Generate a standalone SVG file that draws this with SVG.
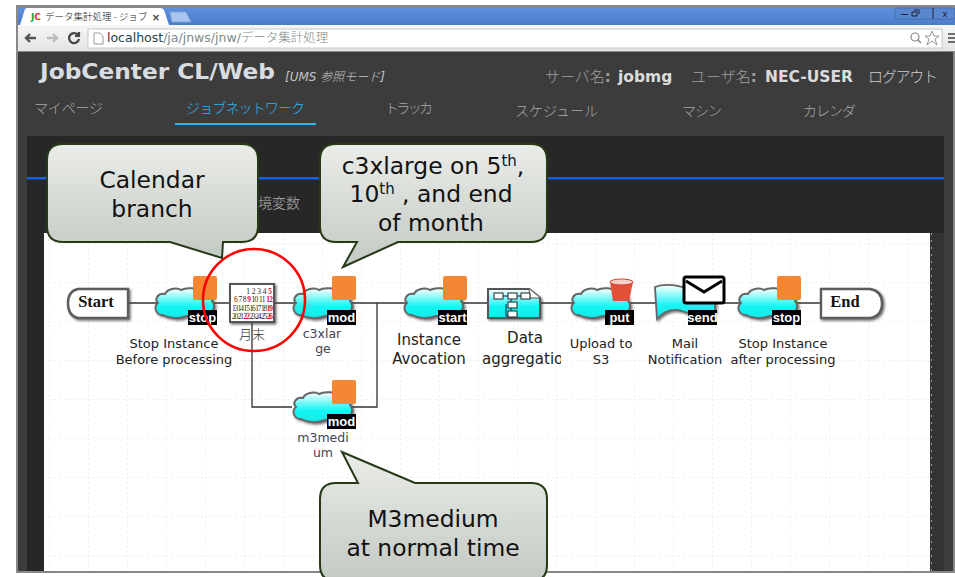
<svg xmlns="http://www.w3.org/2000/svg" xmlns:xlink="http://www.w3.org/1999/xlink" width="955" height="577" viewBox="0 0 955 577">
<style>
text{font-family:"DejaVu Sans","Noto Sans CJK JP",sans-serif}
.jp{font-family:"Noto Sans CJK JP",sans-serif;font-weight:300}
.menu{font-size:14px;fill:#a8a8a8}
.head{font-size:15px;fill:#a0a0a0}
.bold{font-size:15.5px;font-weight:bold;fill:#dcdcdc}
.call{font-size:23.4px;fill:#111;text-anchor:middle;font-family:"DejaVu Sans",sans-serif}
.sup{font-size:15px}
.lab{font-size:13px;fill:#222;text-anchor:middle}
.lab2{font-size:15px;fill:#222;text-anchor:middle}
.blu{font-size:12.5px;fill:#445;text-anchor:middle}
.tag{font:bold 13px "Liberation Sans",sans-serif;fill:#fff;text-anchor:middle}
.ttl{font:bold 16.5px "Liberation Serif",serif;fill:#111;text-anchor:middle}
.cal{font:7.4px "Liberation Serif",serif;fill:#222}
.red{fill:#e01010;font-weight:bold}
.wire{fill:none;stroke:#333;stroke-width:1.3}
.box{stroke:#263a18;stroke-width:2;fill:url(#cg)}
.or{fill:#f58634;stroke:none}
.sh{filter:url(#ds)}
.frame{fill:#fff;stroke:#5c5c5c;stroke-width:2.4}
.ic{fill:#fff;stroke:#222;stroke-width:1}
</style>
<defs>
<linearGradient id="cg" x1="0" y1="0" x2="0" y2="1"><stop offset="0" stop-color="#eaece8"/><stop offset="1" stop-color="#c3c9c3"/></linearGradient>
<linearGradient id="cy" x1="0" y1="0" x2="0" y2="1"><stop offset="0" stop-color="#fff"/><stop offset=".6" stop-color="#18f4f4"/><stop offset="1" stop-color="#10e8e8"/></linearGradient>
<linearGradient id="tb" x1="0" y1="0" x2="0" y2="1"><stop offset="0" stop-color="#5e90de"/><stop offset="1" stop-color="#4a7cc8"/></linearGradient>
<linearGradient id="gr" x1="0" y1="0" x2="0" y2="1"><stop offset="0" stop-color="#f6f6f6"/><stop offset="1" stop-color="#e4e4e4"/></linearGradient>
<filter id="ds" x="-20%" y="-20%" width="150%" height="150%"><feDropShadow dx="1.5" dy="1.5" stdDeviation="1.2" flood-color="#333" flood-opacity=".7"/></filter>
<pattern id="grid" width="39" height="39" patternUnits="userSpaceOnUse" x="10" y="9"><path d="M0 .5H39M.5 0V39" stroke="#eeeeee" stroke-width="1" stroke-dasharray="2 3" fill="none"/></pattern>
<clipPath id="dataclip"><rect x="470" y="330" width="91" height="45"/></clipPath>
<path id="cloud" d="M9 28C2 28-1 20 4 16C0 12 4 6 11 7C13 2 22 0 27 3C33 0 42 1 45 4C52 2 59 8 58 14C62 18 60 27 52 28C46 31 38 30 33 29C26 32 16 32 9 28Z" fill="url(#cy)" stroke="#666" stroke-width="2"/>
</defs>

<rect width="955" height="577" fill="#fff"/>
<g id="browser">
<rect x="16" y="5" width="939" height="568" fill="#888"/>
<rect x="18" y="8" width="937" height="17" fill="url(#tb)"/>
<path d="M20 25L25 9Q26 8 28 8H160Q163 8 164 10L169 25Z" fill="#fff"/>
<path d="M170 12H186L191 22H172Z" fill="#a9c6ee" stroke="#7da2d8"/>
<text x="31" y="20" font-size="9" font-weight="bold" fill="#2a9d3a">J<tspan fill="#e03020">C</tspan></text>
<text class="jp" x="45" y="20" font-size="9.5" fill="#222">データ集計処理 - ジョブ</text>
<text x="156" y="21" font-size="10" font-weight="bold" text-anchor="middle" fill="#444">×</text>
<rect x="895" y="8" width="60" height="11" fill="#5a88d0" stroke="#3a5f9c" stroke-width=".6" rx="2"/>
<path d="M901 14.5H908M912 12h5v4h-5zM914 10h5v4M933 8V19" stroke="#223" stroke-width="1" fill="none"/>
<text x="945" y="17" font-size="9" text-anchor="middle" fill="#223">x</text>
<rect x="18" y="25" width="937" height="26" fill="url(#gr)"/>
<rect x="88" y="29" width="854" height="19" fill="#fff" stroke="#c8c8c8"/>
<path d="M36 38H26M30 34L26 38L30 42" stroke="#555" stroke-width="2.4" fill="none"/>
<path d="M47 38H57M53 34L57 38L53 42" stroke="#bbb" stroke-width="2.4" fill="none"/>
<path d="M78 35A5 5 0 1 0 79 39M79 32V36H75" stroke="#444" stroke-width="2.2" fill="none"/>
<path d="M94 33H100L103 36V44H94Z" fill="#fff" stroke="#999"/>
<text x="107" y="42" font-size="12.5" fill="#7c8a8a"><tspan fill="#26404a">localhost</tspan>/ja/jnws/jnw/<tspan class="jp">データ集計処理</tspan></text>
<circle cx="915" cy="37" r="4" fill="none" stroke="#888" stroke-width="1.2"/><path d="M918 40L921 43" stroke="#888" stroke-width="1.5"/>
<path d="M932 31L934 36H939L935 39L937 45L932 41L927 45L929 39L925 36H930Z" fill="#fff" stroke="#999"/>
<path d="M948 34H955M948 38H955M948 42H955" stroke="#444" stroke-width="1.6"/>
<rect x="18" y="52" width="935" height="519" fill="#3c3c3c"/>
<rect x="27" y="136" width="917" height="435" fill="#272727"/>
<rect x="27" y="177" width="917" height="2.5" fill="#1a5fdc"/>
<text x="40" y="79" font-size="22" font-weight="bold" fill="#d8dde2" textLength="235" lengthAdjust="spacingAndGlyphs">JobCenter CL/Web</text>
<text x="285" y="81" font-size="12" font-style="italic" fill="#c4c4c4">[UMS <tspan class="jp">参照モード</tspan>]</text>
<text class="jp head" x="545" y="82">サーバ名<tspan font-family="DejaVu Sans" font-weight="bold">:</tspan></text>
<text class="bold" x="618" y="82">jobmg</text>
<text class="jp head" x="691" y="82">ユーザ名<tspan font-family="DejaVu Sans" font-weight="bold">:</tspan></text>
<text class="bold" x="765" y="82" textLength="88">NEC-USER</text>
<text class="jp head" x="868" y="82" style="fill:#ccc" textLength="70">ログアウト</text>
<text class="jp menu" x="34" y="113" textLength="69">マイページ</text>
<text class="jp menu" x="186" y="113" style="fill:#2eb4f0" textLength="119">ジョブネットワーク</text>
<rect x="175" y="123" width="141" height="2" fill="#2ab5ec"/>
<text class="jp menu" x="385" y="113" textLength="48">トラッカ</text>
<text class="jp menu" x="515" y="116" textLength="83">スケジュール</text>
<text class="jp menu" x="682" y="116" textLength="40">マシン</text>
<text class="jp menu" x="803" y="116" textLength="53">カレンダ</text>
<text class="jp" x="244" y="208" font-size="14" fill="#b0b0b0">環境変数</text>
<rect x="44" y="233" width="886" height="338" fill="#fff"/>
<rect x="44" y="233" width="886" height="338" fill="url(#grid)"/>
<rect x="930" y="233" width="14" height="338" fill="#333"/>
<path d="M931.5 233V571" stroke="#999" stroke-width="1" stroke-dasharray="2 5"/>
</g>

<g id="connectors" class="wire">
<path d="M128 303H821"/>
<path d="M252 323V407H292"/>
<path d="M350 407H377V303"/>
</g>

<g id="node-start"><path class="frame sh" d="M78 289H128V318H78Q68 316 68 303Q68 291 78 289Z"/><text class="ttl" x="96" y="307">Start</text></g>

<g id="node-stop1">
<use xlink:href="#cloud" href="#cloud" x="154" y="287" class="sh"/>
<rect class="or" x="193" y="276" width="24" height="24" rx="2"/>
<rect x="188" y="310" width="29" height="15" fill="#000"/><text class="tag" x="202.500" y="322">stop</text>
<text class="lab" x="174" y="348">Stop Instance</text><text class="lab" x="174" y="364">Before processing</text>
</g>

<g id="node-calendar">
<rect x="230" y="284" width="44" height="38" fill="#fff" stroke="#555" stroke-width="2" class="sh"/>
<text class="cal" x="272" y="293.500" text-anchor="end">1 2 3 4 <tspan class="red">5</tspan></text>
<text class="cal" x="234" y="302" textLength="39">6 7 8 <tspan class="red">9</tspan> 10 11 <tspan class="red">12</tspan></text>
<text class="cal" x="232" y="310.500" textLength="41">13 14 15 16 17 18 <tspan class="red">19</tspan></text>
<text class="cal" x="232" y="319" textLength="41">20 21 <tspan class="red">22</tspan> 23 24 25 <tspan class="red">26</tspan></text>
<text class="jp" x="252" y="339" font-size="13" fill="#333" text-anchor="middle">月末</text>
</g>

<g id="node-c3xlarge">
<use xlink:href="#cloud" href="#cloud" x="292" y="287" class="sh"/>
<rect class="or" x="332" y="276" width="24" height="24" rx="2"/>
<rect x="327" y="310" width="29" height="15" fill="#000"/><text class="tag" x="341.500" y="322">mod</text>
<text class="blu" x="322" y="338">c3xlar</text><text class="blu" x="323" y="353">ge</text>
</g>

<g id="node-m3medium">
<use xlink:href="#cloud" href="#cloud" x="292" y="391" class="sh"/>
<rect class="or" x="332" y="380" width="24" height="24" rx="2"/>
<rect x="327" y="414" width="29" height="15" fill="#000"/><text class="tag" x="341.500" y="426">mod</text>
<text class="blu" x="323" y="442">m3medi</text><text class="blu" x="323" y="457">um</text>
</g>

<g id="node-start-instance">
<use xlink:href="#cloud" href="#cloud" x="403" y="287" class="sh"/>
<rect class="or" x="443" y="276" width="24" height="24" rx="2"/>
<rect x="438" y="310" width="29" height="15" fill="#000"/><text class="tag" x="452.500" y="322">start</text>
<text class="lab2" x="429" y="345">Instance</text><text class="lab2" x="429" y="364">Avocation</text>
</g>

<g id="node-data">
<path class="sh" d="M488 289H529L540 298V318H488Z" fill="url(#cy)" stroke="#555" stroke-width="2"/>
<path d="M529 289L530 298H540" fill="#fff" stroke="#555"/>
<path d="M499 296H526M511 296V316M506 304V316H511" fill="none" stroke="#124" stroke-width="1"/>
<rect class="ic" x="494" y="293" width="9" height="6"/><rect class="ic" x="508" y="293" width="9" height="6"/><rect class="ic" x="521" y="293" width="9" height="6"/>
<rect class="ic" x="508" y="302" width="9" height="6"/><rect class="ic" x="508" y="311" width="9" height="6"/>
<text class="lab2" x="525" y="343">Data</text>
<text class="lab2" x="482" y="364" style="text-anchor:start" clip-path="url(#dataclip)">aggregation</text>
</g>

<g id="node-put">
<use xlink:href="#cloud" href="#cloud" x="570" y="287" class="sh"/>
<path d="M610 282L613 301H629L633 282Z" fill="#e0503a"/><ellipse cx="621.500" cy="282" rx="11.500" ry="3" fill="#f4d0c8" stroke="#d04030"/>
<rect x="605" y="310" width="29" height="15" fill="#000"/><text class="tag" x="619.500" y="322">put</text>
<text class="lab" x="601" y="348">Upload to</text><text class="lab" x="601" y="364">S3</text>
</g>

<g id="node-send">
<path class="sh" d="M655 287C665 283 680 285 690 290C700 294 708 290 715 290V312C705 314 695 316 685 312C675 308 665 310 657 319Z" fill="url(#cy)" stroke="#666" stroke-width="1.800"/>
<rect x="684" y="277" width="40" height="26" rx="2" fill="#fff" stroke="#000" stroke-width="3"/>
<path d="M686 281L704 292L722 281" fill="none" stroke="#000" stroke-width="3"/>
<rect x="688" y="310" width="29" height="15" fill="#000"/><text class="tag" x="702.500" y="322">send</text>
<text class="lab" x="685" y="348">Mail</text><text class="lab" x="685" y="364">Notification</text>
</g>

<g id="node-stop2">
<use xlink:href="#cloud" href="#cloud" x="737" y="287" class="sh"/>
<rect class="or" x="777" y="276" width="24" height="24" rx="2"/>
<rect x="772" y="310" width="29" height="15" fill="#000"/><text class="tag" x="786.500" y="322">stop</text>
<text class="lab" x="783" y="348">Stop Instance</text><text class="lab" x="783" y="364">after processing</text>
</g>

<g id="node-end"><path class="frame sh" d="M821 289H870Q882 291 882 303Q882 316 870 318H821Z"/><text class="ttl" x="845" y="307">End</text></g>

<g id="highlight"><circle cx="254" cy="300" r="51" fill="none" stroke="#f00" stroke-width="2.600"/></g>

<g id="callout-calendar">
<path class="box" d="M63 144H242Q258 144 258 160V226Q258 242 242 242H223L222 258L170 242H63Q47 242 47 226V160Q47 144 63 144Z"/>
<text class="call" x="152" y="188">Calendar</text><text class="call" x="152" y="217">branch</text>
</g>
<g id="callout-c3xlarge">
<path class="box" d="M336 144H531Q547 144 547 160V226Q547 242 531 242H398L343 267L357 242H336Q320 242 320 226V160Q320 144 336 144Z"/>
<text class="call" x="433" y="174">c3xlarge on 5<tspan class="sup" dy="-8">th</tspan><tspan dy="8">,</tspan></text>
<text class="call" x="431" y="202">10<tspan class="sup" dy="-8">th</tspan><tspan dy="8"> , and end</tspan></text>
<text class="call" x="431" y="231">of month</text>
</g>
<g id="callout-m3medium">
<path class="box" d="M342 452L415 483H531Q547 483 547 499V565Q547 581 531 581H336Q320 581 320 565V499Q320 483 336 483H358Z"/>
<text class="call" x="433" y="527">M3medium</text><text class="call" x="433" y="556">at normal time</text>
</g>
</svg>
